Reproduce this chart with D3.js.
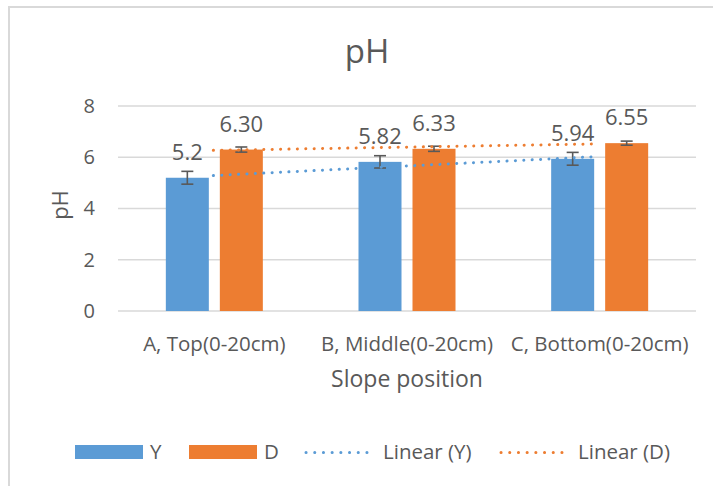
<html>

<head>
  <meta charset="UTF-8">
  <title>pH by slope position</title>
  <script src="https://d3js.org/d3.v7.min.js"></script>
  <style>
    body { margin: 0; background: #ffffff; }
    text { font-family: "Open Sans", "Noto Sans", sans-serif; fill: #595959; }
  </style>
</head>

<body>
  <svg id="chart" width="713" height="486"></svg>

  <script>
    // Data
    const categories = [ "A, Top(0-20cm)", "B, Middle(0-20cm)", "C, Bottom(0-20cm)" ];
    const seriesNames = [ "Y", "D" ];
    const valuesY = [ 5.2, 5.82, 5.94 ];
    const valuesD = [ 6.30, 6.33, 6.55 ];
    const errorsY = [ 0.25, 0.24, 0.25 ];
    const errorsD = [ 0.10, 0.10, 0.08 ];
    const labelsY = [ "5.2", "5.82", "5.94" ];
    const labelsD = [ "6.30", "6.33", "6.55" ];
    const yTicks = [ 0, 2, 4, 6, 8 ];
    const legendLabels = [ "Y", "D", "Linear (Y)", "Linear (D)" ];

    const colors = { Y: "#5B9BD5", D: "#ED7D31" };

    const series = [
      { name: "Y", values: valuesY, errors: errorsY, labels: labelsY },
      { name: "D", values: valuesD, errors: errorsD, labels: labelsD }
    ];

    const svg = d3.select( "#chart" );

    // chart frame
    svg.append( "rect" )
      .attr( "x", 9 ).attr( "y", 7 )
      .attr( "width", 740 ).attr( "height", 520 )
      .attr( "fill", "none" )
      .attr( "stroke", "#d9d9d9" )
      .attr( "stroke-width", 2 );

    // Scales
    const x = d3.scaleBand()
      .domain( categories )
      .range( [ 118, 696 ] );

    const groupWidth = 97;
    const xInner = d3.scaleBand()
      .domain( seriesNames )
      .range( [ 0, groupWidth ] )
      .paddingInner( 11 / 54 );

    const y = d3.scaleLinear()
      .domain( [ 0, 8 ] )
      .range( [ 311, 106 ] );

    const groupStart = c => x( c ) + ( x.bandwidth() - groupWidth ) / 2;

    // Gridlines
    svg.append( "g" )
      .selectAll( "line" )
      .data( yTicks ).enter()
      .append( "line" )
      .attr( "x1", 118 ).attr( "x2", 696 )
      .attr( "y1", d => y( d ) ).attr( "y2", d => y( d ) )
      .attr( "stroke", "#d9d9d9" )
      .attr( "stroke-width", 1.5 );

    // Y axis labels
    const yAxis = svg.append( "g" )
      .attr( "transform", "translate(118,0)" )
      .call( d3.axisLeft( y ).tickValues( yTicks ).tickSize( 0 ).tickPadding( 23 ) );
    yAxis.select( ".domain" ).remove();
    yAxis.selectAll( "text" )
      .attr( "font-size", 20 )
      .attr( "fill", "#595959" )
      .attr( "font-family", null );

    // X axis labels
    const xAxis = svg.append( "g" )
      .attr( "transform", "translate(0,311)" )
      .call( d3.axisBottom( x ).tickSize( 0 ).tickPadding( 25 ) );
    xAxis.select( ".domain" ).remove();
    xAxis.selectAll( "text" )
      .attr( "font-size", 20.5 )
      .attr( "fill", "#595959" )
      .attr( "font-family", null );

    // Bars
    const groups = svg.append( "g" )
      .selectAll( "g" )
      .data( series ).enter()
      .append( "g" );

    groups.selectAll( "rect" )
      .data( s => s.values.map( ( v, i ) => ( { name: s.name, cat: categories[ i ], v: v } ) ) )
      .enter()
      .append( "rect" )
      .attr( "x", d => groupStart( d.cat ) + xInner( d.name ) )
      .attr( "y", d => y( d.v ) )
      .attr( "width", xInner.bandwidth() )
      .attr( "height", d => y( 0 ) - y( d.v ) )
      .attr( "fill", d => colors[ d.name ] );

    // Error bars
    groups.each( function ( s ) {
      const g = d3.select( this );
      s.values.forEach( ( v, i ) => {
        const cx = groupStart( categories[ i ] ) + xInner( s.name ) + xInner.bandwidth() / 2;
        const lo = y( v - s.errors[ i ] ), hi = y( v + s.errors[ i ] );
        g.append( "line" ).attr( "x1", cx ).attr( "x2", cx ).attr( "y1", lo ).attr( "y2", hi );
        g.append( "line" ).attr( "x1", cx - 6 ).attr( "x2", cx + 6 ).attr( "y1", lo ).attr( "y2", lo );
        g.append( "line" ).attr( "x1", cx - 6 ).attr( "x2", cx + 6 ).attr( "y1", hi ).attr( "y2", hi );
      } );
      g.selectAll( "line" ).attr( "stroke", "#595959" ).attr( "stroke-width", 1.6 );
    } );

    // Trendlines (least squares through the three points)
    function linearFit( vals ) {
      const xs = vals.map( ( v, i ) => i + 1 );
      const mx = d3.mean( xs ), my = d3.mean( vals );
      const slope = d3.sum( xs, ( xi, i ) => ( xi - mx ) * ( vals[ i ] - my ) ) / d3.sum( xs, xi => ( xi - mx ) ** 2 );
      return xi => my + slope * ( xi - mx );
    }

    series.forEach( s => {
      const f = linearFit( s.values );
      const xs = categories.map( c => x( c ) + x.bandwidth() / 2 );
      svg.append( "line" )
        .attr( "x1", xs[ 0 ] - 1 ).attr( "y1", y( f( 1 ) ) )
        .attr( "x2", xs[ 2 ] - 4 ).attr( "y2", y( f( 3 ) ) )
        .attr( "stroke", colors[ s.name ] )
        .attr( "stroke-width", 3 )
        .attr( "stroke-linecap", "round" )
        .attr( "stroke-dasharray", "0.1 8.3" );
    } );

    // Data labels
    groups.selectAll( "text.lbl" )
      .data( s => s.values.map( ( v, i ) => ( { name: s.name, cat: categories[ i ], v: v, label: s.labels[ i ] } ) ) )
      .enter()
      .append( "text" )
      .attr( "class", "lbl" )
      .attr( "x", d => groupStart( d.cat ) + xInner( d.name ) + xInner.bandwidth() / 2 )
      .attr( "y", d => y( d.v ) - 18 )
      .attr( "text-anchor", "middle" )
      .attr( "font-size", 22 )
      .attr( "fill", "#404040" )
      .text( d => d.label );

    // Titles
    svg.append( "text" )
      .attr( "x", 367 ).attr( "y", 63 )
      .attr( "text-anchor", "middle" )
      .attr( "font-size", 33 )
      .text( "pH" );

    svg.append( "text" )
      .attr( "transform", "translate(68,205) rotate(-90)" )
      .attr( "text-anchor", "middle" )
      .attr( "font-size", 22 )
      .text( "pH" );

    svg.append( "text" )
      .attr( "x", 407 ).attr( "y", 387 )
      .attr( "text-anchor", "middle" )
      .attr( "font-size", 23 )
      .text( "Slope position" );

    // Legend
    const legend = svg.append( "g" );
    const legendItems = [
      { kind: "box", color: colors.Y, x: 75, label: legendLabels[ 0 ] },
      { kind: "box", color: colors.D, x: 189, label: legendLabels[ 1 ] },
      { kind: "dot", color: colors.Y, x: 306, label: legendLabels[ 2 ] },
      { kind: "dot", color: colors.D, x: 501, label: legendLabels[ 3 ] }
    ];
    legendItems.forEach( it => {
      if ( it.kind === "box" ) {
        legend.append( "rect" )
          .attr( "x", it.x ).attr( "y", 445 )
          .attr( "width", 68 ).attr( "height", 14 )
          .attr( "fill", it.color );
      } else {
        legend.append( "line" )
          .attr( "x1", it.x ).attr( "x2", it.x + 69 )
          .attr( "y1", 452.5 ).attr( "y2", 452.5 )
          .attr( "stroke", it.color )
          .attr( "stroke-width", 3 )
          .attr( "stroke-linecap", "round" )
          .attr( "stroke-dasharray", "0.1 8.6" );
      }
      legend.append( "text" )
        .attr( "x", it.x + ( it.kind === "box" ? 75 : 77 ) )
        .attr( "y", 459 )
        .attr( "font-size", 20.5 )
        .text( it.label );
    } );
  </script>

</body>

</html>
